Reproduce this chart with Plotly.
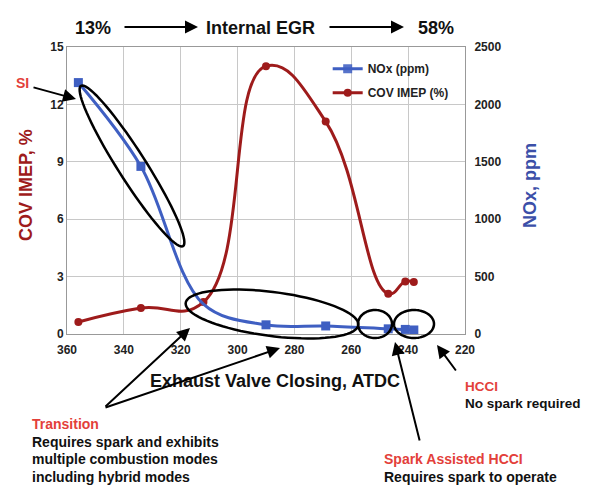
import numpy as np
import plotly.graph_objects as go

# exhaust valve closing (deg ATDC), shared by both series
evc = [356, 334, 312, 290, 269, 247, 241, 238]
nox_ppm = [2190, 1460, 260, 80, 70, 45, 40, 35]
cov_imep = [0.63, 1.36, 1.67, 14.0, 11.1, 2.1, 2.75, 2.72]

x_ticks = [360, 340, 320, 300, 280, 260, 240, 220]

BLUE = "#3f5fc2"
DARKRED = "#9e1b1b"
RED = "#e3403a"
FONT = "Liberation Sans"

# page is offset by the default body margin
OFF = 8
W, H = 592 - OFF, 485 - OFF
# plot area in page pixels
PX0, PY0, PW, PH = 67, 47, 398, 287
L, T = PX0 - OFF, PY0 - OFF
R, B = W - L - PW, H - T - PH


def paper(px, py):
    return (px - PX0) / PW, (PY0 + PH - py) / PH


def ellipse_path(cx, cy, a, b, ang_deg, n=80):
    t = np.linspace(0, 2 * np.pi, n)
    ang = np.radians(ang_deg)
    xs = cx + a * np.cos(t) * np.cos(ang) - b * np.sin(t) * np.sin(ang)
    ys = cy + a * np.cos(t) * np.sin(ang) + b * np.sin(t) * np.cos(ang)
    pts = [paper(x, y) for x, y in zip(xs, ys)]
    return "M " + " L ".join(f"{x:.4f},{y:.4f}" for x, y in pts) + " Z"


fig = go.Figure()

# the transition-point NOx marker is hidden under the COV marker in the original
nox_opacity = [0 if e == 312 else 1 for e in evc]

fig.add_trace(go.Scatter(
    x=evc, y=nox_ppm, name="NOx (ppm)", yaxis="y2",
    mode="lines+markers", line=dict(color=BLUE, width=3, shape="spline", smoothing=1.0),
    marker=dict(symbol="square", size=9, color=BLUE, opacity=nox_opacity),
    legendgroup="a",
))
fig.add_trace(go.Scatter(
    x=evc, y=cov_imep, name="COV IMEP (%)",
    mode="lines+markers", line=dict(color=DARKRED, width=3, shape="spline", smoothing=1.3),
    marker=dict(symbol="circle", size=8, color=DARKRED),
    legendgroup="b",
))

tickfont = dict(family=FONT, size=12, color="#222", weight="bold")

fig.update_layout(
    width=W, height=H,
    margin=dict(l=L, r=R, t=T, b=B),
    paper_bgcolor="white", plot_bgcolor="white",
    font=dict(family=FONT),
    xaxis=dict(
        range=[360, 220], tickvals=x_ticks, showgrid=True, gridcolor="#c8c8c8",
        showline=True, linecolor="#999", mirror=True, zeroline=False,
        tickfont=tickfont, ticklabelstandoff=5,
    ),
    yaxis=dict(
        range=[0, 15], dtick=3, showgrid=True, gridcolor="#c8c8c8",
        showline=True, linecolor="#999", zeroline=False, tickfont=tickfont,
        ticklabelstandoff=0,
    ),
    yaxis2=dict(
        range=[0, 2500], dtick=500, overlaying="y", side="right", showgrid=False,
        showline=True, linecolor="#999", zeroline=False, tickfont=tickfont,
        ticklabelstandoff=6,
    ),
    legend=dict(
        x=0.655, y=0.975, xanchor="left", yanchor="top", bgcolor="rgba(0,0,0,0)",
        font=dict(family=FONT, size=12, color="#222", weight="bold"),
        itemwidth=30, tracegroupgap=5,
    ),
)

ann = []


def text(px, py, s, size=14, color="#111", xanchor="left", angle=0):
    x, y = paper(px, py)
    ann.append(dict(x=x, y=y, xref="paper", yref="paper", text=s, showarrow=False,
                    xanchor=xanchor, yanchor="middle", align="left", textangle=angle,
                    font=dict(family=FONT, size=size, color=color, weight="bold")))


def block(px, py, lines, step=17.5, size=14):
    # first line in red, the rest in black
    for i, s in enumerate(lines):
        text(px, py + i * step, s, size=size, color=RED if i == 0 else "#111")


def arrow(tail, head, width=2):
    x, y = paper(*head)
    ann.append(dict(x=x, y=y, xref="paper", yref="paper", text="", showarrow=True,
                    ax=tail[0] - head[0], ay=tail[1] - head[1], axref="pixel", ayref="pixel",
                    arrowhead=2, arrowsize=1.3, arrowwidth=width, arrowcolor="black",
                    standoff=0))


# top EGR banner
text(93, 28, "13%", size=18, xanchor="center")
arrow((123, 27), (198, 27))
text(260, 28, "Internal EGR", size=18, xanchor="center")
arrow((328, 27), (404, 27))
text(436, 28, "58%", size=18, xanchor="center")

# axis titles
text(26, 185, "COV IMEP, %", size=18, color=DARKRED, xanchor="center", angle=-90)
text(530, 186, "NOx, ppm", size=18, color="#3b4fa8", xanchor="center", angle=-90)
text(275, 381, "Exhaust Valve Closing, ATDC", size=18, xanchor="center")

# regime labels
text(14, 83, "SI", color=RED)
arrow((32, 87), (76, 99))

block(30, 424, ["Transition", "Requires spark and exhibits",
                "multiple combustion modes", "including hybrid modes"])
arrow((104, 408), (190, 328))
arrow((104, 408), (280, 348))

block(382, 459, ["Spark Assisted HCCI", "Requires spark to operate"])
arrow((420, 442), (395, 342))

block(463, 386, ["HCCI", "No spark required"], size=13.5)
arrow((457, 372), (437, 345))

fig.update_layout(annotations=ann)

shapes = []
for cx, cy, a, b, ang in [(132, 166, 95, 14, 57.5), (272, 314, 87, 22, 7.3),
                          (375, 324, 17, 14, 0), (414, 324, 20, 14, 0)]:
    shapes.append(dict(type="path", xref="paper", yref="paper",
                       path=ellipse_path(cx, cy, a, b, ang),
                       line=dict(color="black", width=2.5)))
fig.update_layout(shapes=shapes)

fig.write_html("out.html")
